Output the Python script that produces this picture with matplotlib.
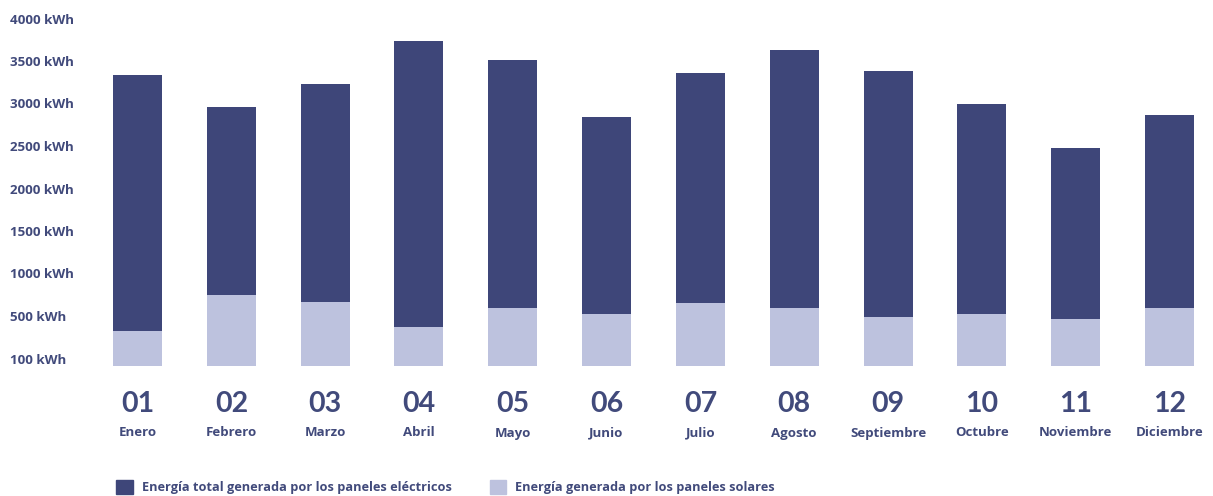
import matplotlib
matplotlib.use('Agg')
import matplotlib.pyplot as plt
import matplotlib.transforms as mtransforms
from matplotlib.patches import Patch

# ---- datos ----
month_nums = ['01', '02', '03', '04', '05', '06', '07', '08', '09', '10', '11', '12']
month_names = ['Enero', 'Febrero', 'Marzo', 'Abril', 'Mayo', 'Junio', 'Julio',
               'Agosto', 'Septiembre', 'Octubre', 'Noviembre', 'Diciembre']
total_kwh = [3420, 3045, 3315, 3820, 3605, 2925, 3445, 3715, 3465, 3080, 2560, 2950]
solar_kwh = [410, 835, 750, 460, 680, 610, 740, 680, 575, 610, 550, 680]
y_ticks = [0, 500, 1000, 1500, 2000, 2500, 3000, 3500, 4000]
y_labels = ['100 kWh', '500 kWh', '1000 kWh', '1500 kWh', '2000 kWh',
            '2500 kWh', '3000 kWh', '3500 kWh', '4000 kWh']
legend_labels = ['Energía total generada por los paneles eléctricos',
                 'Energía generada por los paneles solares']

dark = '#3e4679'
light = '#bdc2de'
txt = '#414a7b'
font_big = 'Lato'
font_small = 'Open Sans'

fig = plt.figure(figsize=(12.13, 4.96), dpi=100)
ax = fig.add_axes([100 / 1213, 130 / 496, 1107 / 1213, 340 / 496])

x = list(range(len(month_nums)))
upper = [t - s for t, s in zip(total_kwh, solar_kwh)]
ax.bar(x, solar_kwh, width=0.522, color=light)
ax.bar(x, upper, width=0.522, bottom=solar_kwh, color=dark)

ax.set_xlim(-0.4, 11.4)
ax.set_ylim(0, 4000)
ax.set_xticks([])
ax.set_yticks([])
for s in ax.spines.values():
    s.set_visible(False)

# etiquetas del eje y (alineadas a la izquierda, un poco más arriba)
ytrans = mtransforms.blended_transform_factory(fig.transFigure, ax.transData) + \
    mtransforms.ScaledTranslation(0, 6 / 100, fig.dpi_scale_trans)
for v, lab in zip(y_ticks, y_labels):
    ax.text(10 / 1213, v, lab, transform=ytrans, ha='left', va='center',
            fontsize=9.6, fontweight='bold', color=txt, family=font_small)

# números y nombres de mes
xtrans = ax.get_xaxis_transform()
for i, (n, name) in enumerate(zip(month_nums, month_names)):
    ax.text(i, -38 / 340, n, transform=xtrans, ha='center', va='center',
            fontsize=20.5, fontweight='bold', color=txt, family=font_big)
    ax.text(i, -67 / 340, name, transform=xtrans, ha='center', va='center',
            fontsize=9.5, fontweight='bold', color=txt, family=font_small)

handles = [Patch(color=dark), Patch(color=light)]
fig.legend(handles, legend_labels, loc='center left',
           bbox_to_anchor=(116 / 1213, 9 / 496), ncol=2, frameon=False,
           borderpad=0, borderaxespad=0, handlelength=1.3, handleheight=1.3,
           handletextpad=0.7, columnspacing=3.0,
           prop={'family': font_small, 'weight': 'bold', 'size': 9.2},
           labelcolor=txt)

fig.savefig('out.png', dpi=100)
